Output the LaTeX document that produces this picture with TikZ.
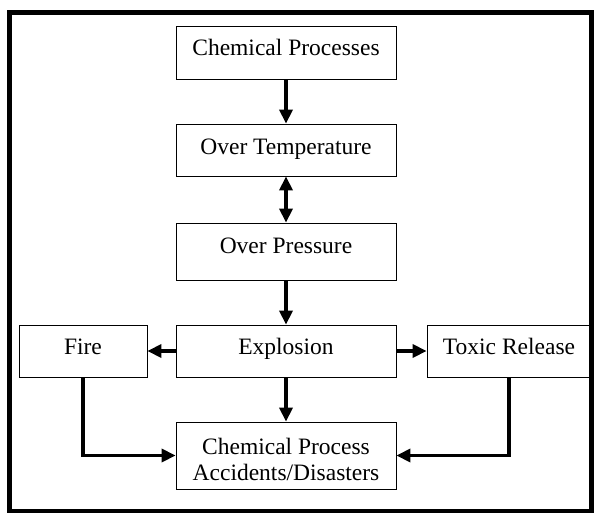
\documentclass[tikz,border=0pt]{standalone}
\usepackage{fontspec}
\setmainfont{Liberation Serif}
\usetikzlibrary{arrows.meta}

\begin{document}
\begin{tikzpicture}[x=1pt,y=-1pt,
        box/.style={draw,line width=0.8pt,inner sep=0pt,minimum width=220pt,
            text height=29pt,text depth=24pt,font=\fontsize{23.5}{26}\selectfont},
        link/.style={line width=3.5pt,-{Triangle[length=14pt,width=13pt]}},
        twoway/.style={line width=3.5pt,{Triangle[length=14pt,width=13pt]}-{Triangle[length=14pt,width=13pt]}}
    ]
    \useasboundingbox (0,0) rectangle (596,514);
    \draw[line width=4.5pt] (9.5,12.5) rectangle (591.5,511);

    \node[box] (proc) at (286,52.5) {Chemical Processes};
    \node[box,text height=30pt,text depth=22pt] (temp) at (286,150) {Over Temperature};
    \node[box,text height=30pt,text depth=27pt] (press) at (286,251.5) {Over Pressure};
    \node[box,text depth=23pt] (expl) at (286,351) {Explosion};
    \node[box,text depth=23pt,minimum width=128pt] (fire) at (83,351) {Fire};
    \node[box,text depth=23pt,minimum width=164pt] (toxic) at (509,351) {Toxic Release};
    \node[box,align=center,text height=58pt,text depth=9pt] (acc) at (286,455.5)
        {Chemical Process\\Accidents/Disasters};

    \draw[link] (proc) -- (temp);
    \draw[twoway] (temp) -- (press);
    \draw[link] (press) -- (expl);
    \draw[link] (expl) -- (fire);
    \draw[link] (expl) -- (toxic);
    \draw[link] (expl) -- (acc);
    \draw[link] (fire.south) |- (acc.west);
    \draw[link] (toxic.south) |- (acc.east);
\end{tikzpicture}
\end{document}
